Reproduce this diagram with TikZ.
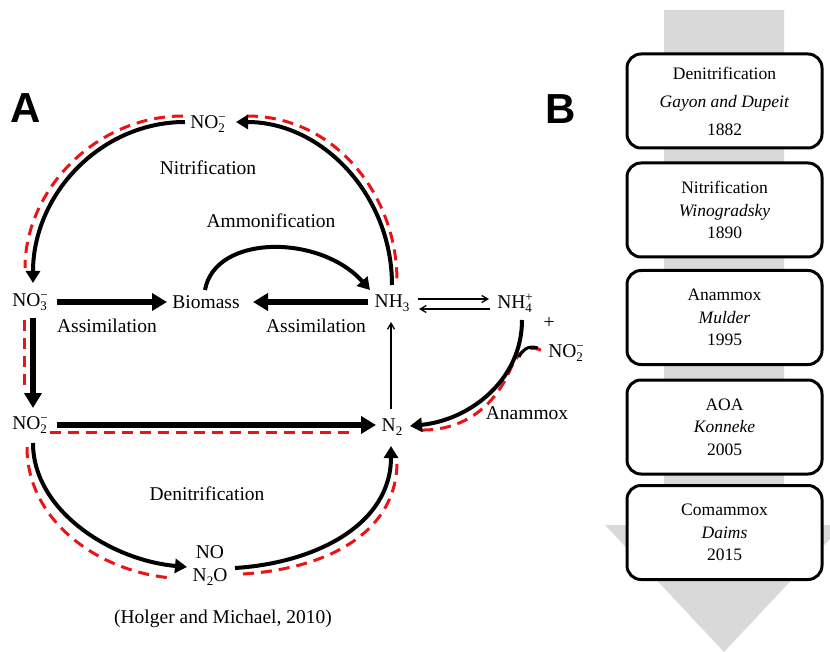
\documentclass[tikz,border=0pt]{standalone}
\usepackage{fontspec}
\setmainfont{Liberation Serif}
\newfontfamily\labfont{Liberation Sans}
\usetikzlibrary{arrows.meta}
\newcommand\subfont{\fontsize{13}{13}\selectfont}
\newcommand\ionx[2]{\makebox[0pt][l]{\raisebox{-0.45ex}{\subfont #1}}\raisebox{0.75ex}{\subfont #2}}
\newcommand\sbx[1]{\raisebox{-0.45ex}{\subfont #1}}
\definecolor{graybar}{HTML}{D9D9D9}
\definecolor{dashred}{RGB}{235,20,20}
\tikzset{
  lbl/.style={font=\rmfamily\fontsize{19.5}{23}\selectfont, inner sep=1pt},
  thickarr/.style={line width=6pt, -{Triangle[length=15pt,width=17pt]}},
  arcarr/.style={line width=4pt, -{Triangle[length=12pt,width=14pt]}},
  thinarr/.style={line width=1.3pt, -{Straight Barb[length=6pt,width=7pt]}},
  reddash/.style={dashred, line width=3pt, dash pattern=on 11pt off 7pt},
  histbox/.style={draw, line width=3pt, fill=white, rounded corners=14pt,
    minimum width=195pt, minimum height=94pt, align=center,
    font=\rmfamily\fontsize{17.5}{22.5}\selectfont},
  panel/.style={font=\labfont\bfseries\fontsize{42}{42}\selectfont}
}
\begin{document}
\begin{tikzpicture}[x=1pt,y=-1pt]
\useasboundingbox (0,0) rectangle (830,652);
\clip (0,0) rectangle (830,652);

% ---------- Panel B ----------
\fill[graybar] (664,10) -- (784,10) -- (784,525) -- (843,525) -- (724,652)
   -- (605,525) -- (664,525) -- cycle;
\node[histbox] (b1) at (724.5,101) {Denitrification\\[5.5pt] \textit{Gayon and Dupeit}\\[5.5pt] 1882};
\node[histbox] (b2) at (724.5,210) {Nitrification\\ \textit{Winogradsky}\\ 1890};
\node[histbox] (b3) at (724.5,317.5) {Anammox\\ \textit{Mulder}\\ 1995};
\node[histbox] (b4) at (724.5,427) {AOA\\ \textit{Konneke}\\ 2005};
\node[histbox] (b5) at (724.5,532.5) {Comammox\\ \textit{Daims}\\ 2015};
\node[panel] (pB) at (561,109) {B};

% ---------- Panel A ----------
\node[panel] (pA) at (26,108) {A};
\node[lbl] (no2t) at (208,124) {NO\ionx{2}{−}};
\node[lbl] (nitr) at (208,168) {Nitrification};
\node[lbl] (ammo) at (271,221) {Ammonification};
\node[lbl] (no3) at (30,302) {NO\ionx{3}{−}};
\node[lbl] (bio) at (206,302) {Biomass};
\node[lbl] (nh3) at (392,303) {NH\sbx{3}};
\node[lbl] (nh4) at (515,303) {NH\ionx{4}{+}};
\node[lbl] (plus) at (549,323) {+};
\node[lbl] (no2r) at (566,353) {NO\ionx{2}{−}};
\node[lbl] (as1) at (107,326) {Assimilation};
\node[lbl] (as2) at (316,326) {Assimilation};
\node[lbl] (no2l) at (30,425) {NO\ionx{2}{−}};
\node[lbl] (n2) at (392,427) {N\sbx{2}};
\node[lbl] (anam) at (527,413) {Anammox};
\node[lbl] (deni) at (207,494) {Denitrification};
\node[lbl, align=center] (non2o) at (210,566) {NO\\N\sbx{2}O};
\node[lbl] (cite) at (223,619) {(Holger and Michael, 2010)};

% named end points
\coordinate (nh3top) at (392,285);
\coordinate (no2tR) at (236,122);
\coordinate (no2tL) at (185,122);
\coordinate (no3top) at (33,283);
\coordinate (biotop) at (205,290);
\coordinate (nh3in) at (370,290);
\coordinate (no3R) at (57,302);
\coordinate (bioL) at (167,302);
\coordinate (nh3L) at (368,302);
\coordinate (bioR) at (253,302);
\coordinate (e1a) at (418,299);
\coordinate (e1b) at (489,299);
\coordinate (e2a) at (490,309);
\coordinate (e2b) at (419,309);
\coordinate (n2top) at (391,409);
\coordinate (nh3bot) at (391,322);
\coordinate (no3bot) at (33,318);
\coordinate (no2ltop) at (33,408);
\coordinate (no2lR) at (57,425);
\coordinate (n2L) at (376,425);
\coordinate (no2lbot) at (33,443);
\coordinate (nonL) at (187,567);
\coordinate (nonR) at (235,568);
\coordinate (n2bot) at (391,446);
\coordinate (nh4bot) at (522,320);
\coordinate (n2R) at (410,426);
\coordinate (no2rL) at (538,348);
\coordinate (hookend) at (519,357);

% red dashed paths (behind)
\draw[reddash] (183,116) .. controls (96,116) and (25,190) .. (25,268);
\draw[reddash] (247,116) .. controls (335,116) and (397,195) .. (397,281);
\draw[reddash] (24,320) -- (24,392);
\draw[reddash] (50,432) -- (352,432);
\draw[reddash] (27,447) .. controls (27,522) and (100,572) .. (172,578);
\draw[reddash] (243,574) .. controls (335,568) and (397,528) .. (397,462);
\draw[reddash] (541,350) .. controls (522,343) and (515,360) .. (510,370)
   .. controls (495,405) and (465,431) .. (420,430);

% black arrows
\draw[arcarr] (nh3top) .. controls (392,195) and (322,122) .. (no2tR);
\draw[arcarr] (no2tL) .. controls (101,122) and (33,194) .. (no3top);
\draw[arcarr] (biotop) .. controls (215,234) and (320,234) .. (nh3in);
\draw[thickarr] (no3R) -- (bioL);
\draw[thickarr] (nh3L) -- (bioR);
\draw[thinarr] (e1a) -- (e1b);
\draw[thinarr] (e2a) -- (e2b);
\draw[thinarr] (n2top) -- (nh3bot);
\draw[thickarr] (no3bot) -- (no2ltop);
\draw[thickarr] (no2lR) -- (n2L);
\draw[arcarr] (no2lbot) .. controls (33,510) and (110,560) .. (nonL);
\draw[arcarr] (nonR) .. controls (315,563) and (391,525) .. (n2bot);
\draw[arcarr] (nh4bot) .. controls (522,380) and (470,420) .. (n2R);
\draw[line width=3pt] (no2rL) .. controls (528,345) and (522,350) .. (hookend);
\end{tikzpicture}
\end{document}
